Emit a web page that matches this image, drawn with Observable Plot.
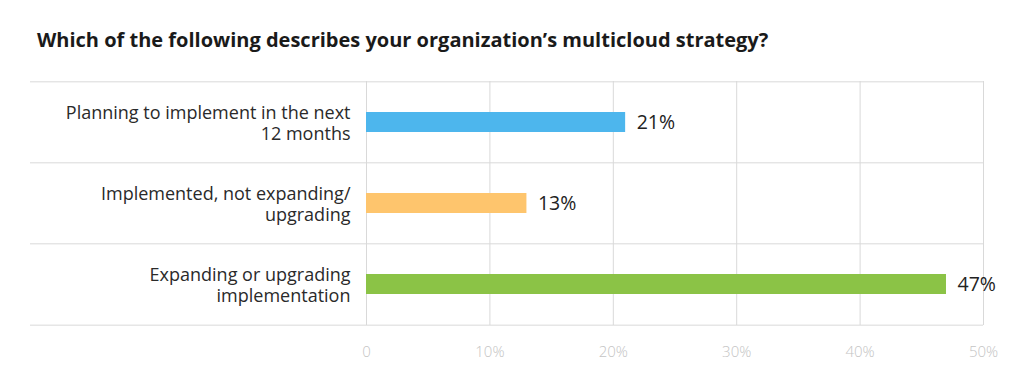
<!DOCTYPE html>
<html>
<head>
<meta charset="utf-8">
<script src="https://cdn.jsdelivr.net/npm/d3@7"></script>
<script src="https://cdn.jsdelivr.net/npm/@observablehq/plot@0.6"></script>
<style>
  html, body { margin: 0; padding: 0; background: #fff; }
  #title { font-family: "Open Sans", sans-serif; font-weight: 700; font-size: 20px; color: #1a1a1a;
           height: 65px; box-sizing: border-box; padding: 30px 0 0 37px; line-height: 20px; white-space: nowrap; }
  #chart svg { display: block; }
</style>
</head>
<body>
<div id="title">Which of the following describes your organization’s multicloud strategy?</div>
<div id="chart"></div>
<script>
const categories = [
  "Planning to implement in the next\n12 months",
  "Implemented, not expanding/\nupgrading",
  "Expanding or upgrading\nimplementation"
];
const values = [21, 13, 47];
const colors = ["#4db6ed", "#fec56d", "#8bc346"];
const xTicks = [0, 10, 20, 30, 40, 50];
const xTickLabels = ["0", "10%", "20%", "30%", "40%", "50%"];

const data = categories.map((c, i) => ({category: c, value: values[i], color: colors[i]}));
const boundaries = categories.map((c) => ({category: c, side: -1})).concat([{category: categories[categories.length - 1], side: 1}]);

const width = 1024, height = 326;
const marginTop = 16, marginBottom = 66, marginLeft = 366, marginRight = 41;
const step = (height - marginTop - marginBottom) / categories.length;

const extendLeft = (index, scales, values, dims, context, next) => {
  const g = next(index, scales, values, dims, context);
  d3.select(g).selectAll("line").attr("x1", 30);
  return g;
};

const chart = Plot.plot({
  width, height, marginTop, marginBottom, marginLeft, marginRight,
  style: {fontFamily: "'Open Sans', sans-serif", background: "#fff"},
  x: {domain: [0, 50], ticks: xTicks, axis: null},
  y: {domain: categories, paddingInner: 0.755, paddingOuter: 0.3775, axis: null},
  marks: [
    Plot.ruleX(xTicks, {x: (d) => d, stroke: "#d9d9d9", strokeWidth: 1}),
    Plot.ruleY(boundaries.filter(b => b.side < 0), {y: "category", dy: -step / 2, stroke: "#d9d9d9", render: extendLeft}),
    Plot.ruleY(boundaries.filter(b => b.side > 0), {y: "category", dy: step / 2, stroke: "#d9d9d9", render: extendLeft}),
    Plot.barX(data, {x: "value", y: "category", fill: "color"}),
    Plot.text(data, {x: "value", y: "category", text: (d) => d.value + "%", textAnchor: "start", dx: 11, fontSize: 19.5, fill: "#222"}),
    Plot.text(data, {x: 0, y: "category", text: "category", textAnchor: "end", dx: -16, fontSize: 18, lineHeight: 1.2, fill: "#2a2a2a"}),
    Plot.text(xTicks, {x: (d) => d, frameAnchor: "bottom", dy: 27, text: (d, i) => xTickLabels[i], fontSize: 15, fill: "#c4c4c4", fontWeight: 300, lineAnchor: "middle"})
  ]
});
document.getElementById("chart").appendChild(chart);
</script>
</body>
</html>
